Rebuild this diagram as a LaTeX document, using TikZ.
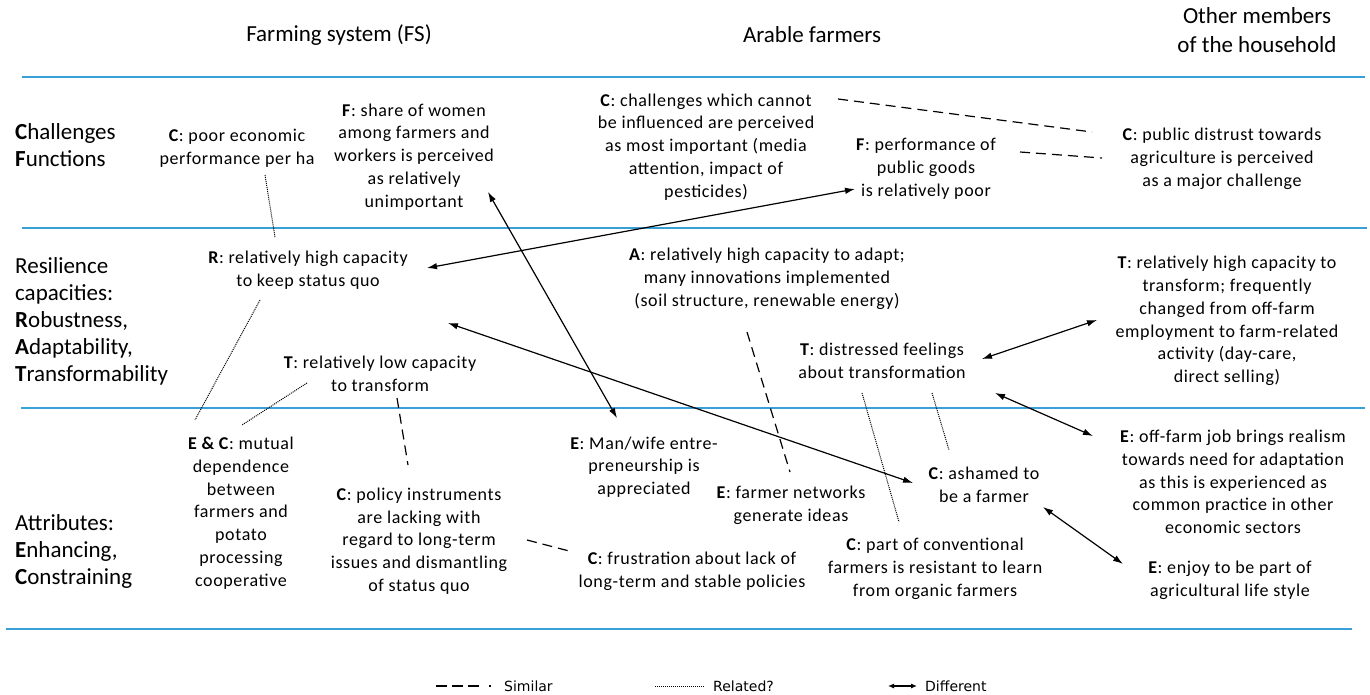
\documentclass[tikz,border=0pt]{standalone}
\usepackage{fontspec}
\setmainfont{Carlito}
\newfontfamily\bodyfont[LetterSpace=3.5]{Carlito}
\newfontfamily\legendfont{DejaVu Sans}
\usetikzlibrary{arrows.meta}
\definecolor{rulecol}{RGB}{56,160,214}
\begin{document}
\begin{tikzpicture}[x=1pt,y=-1pt,
  body/.style={align=center,font=\bodyfont\fontsize{18}{22.8}\selectfont,inner sep=0pt},
  rowlbl/.style={align=left,anchor=west,font=\fontsize{23}{27}\selectfont,inner sep=0pt},
  head/.style={align=center,font=\fontsize{23}{29}\selectfont,inner sep=0pt},
  legtext/.style={anchor=west,font=\legendfont\fontsize{14}{16}\selectfont,inner sep=0pt},
  sepline/.style={draw=rulecol,line width=2pt},
  similar/.style={dash pattern=on 10pt off 6pt,line width=1.2pt},
  related/.style={dash pattern=on 1pt off 1pt,line width=1pt},
  different/.style={{Latex[length=10pt,width=6.5pt]}-{Latex[length=10pt,width=6.5pt]},line width=1.2pt},
]
\useasboundingbox (0,0) rectangle (1370,695);

% separator lines
\draw[sepline] (22,77) -- (1365,77);
\draw[sepline] (22,228) -- (1367,228);
\draw[sepline] (21,408) -- (1365,408);
\draw[sepline] (6,629) -- (1352,629);

% headers
\node[head] (hFS) at (339,35) {Farming system (FS)};
\node[head] (hAF) at (812,35) {Arable farmers};
\node[head] (hOM) at (1257,30) {Other members\\of the household};

% row labels
\node[rowlbl] (lbl1) at (15,145) {\textbf{C}hallenges\\\textbf{F}unctions};
\node[rowlbl] (lbl2) at (15,321) {Resilience\\capacities:\\\textbf{R}obustness,\\\textbf{A}daptability,\\\textbf{T}ransformability};
\node[rowlbl] (lbl3) at (15,551) {Attributes:\\\textbf{E}nhancing,\\\textbf{C}onstraining};

% row 1
\node[body] (fsC1) at (237,148) {\textbf{C}: poor economic\\performance per ha};
\node[body] (fsF) at (414,157) {\textbf{F}: share of women\\among farmers and\\workers is perceived\\as relatively\\unimportant};
\node[body] (afC1) at (706,147) {\textbf{C}: challenges which cannot\\be influenced are perceived\\as most important (media\\attention, impact of\\pesticides)};
\node[body] (afF) at (926,169) {\textbf{F}: performance of\\public goods\\is relatively poor};
\node[body] (omC) at (1222,159) {\textbf{C}: public distrust towards\\agriculture is perceived\\as a major challenge};

% row 2
\node[body] (fsR) at (308,270) {\textbf{R}: relatively high capacity\\to keep status quo};
\node[body] (fsT) at (380,374) {\textbf{T}: relatively low capacity\\to transform};
\node[body] (afA) at (767,279) {\textbf{A}: relatively high capacity to adapt;\\many innovations implemented\\(soil structure, renewable energy)};
\node[body] (afT) at (882,361) {\textbf{T}: distressed feelings\\about transformation};
\node[body] (omT) at (1227,321) {\textbf{T}: relatively high capacity to\\transform; frequently\\changed from off-farm\\employment to farm-related\\activity (day-care,\\direct selling)};

% row 3
\node[body] (fsEC) at (241,513) {\textbf{E \& C}: mutual\\dependence\\between\\farmers and\\potato\\processing\\cooperative};
\node[body] (fsC2) at (419,541) {\textbf{C}: policy instruments\\are lacking with\\regard to long-term\\issues and dismantling\\of status quo};
\node[body] (afE1) at (644,467) {\textbf{E}: Man/wife entre-\\preneurship is\\appreciated};
\node[body] (afE2) at (791,505) {\textbf{E}: farmer networks\\generate ideas};
\node[body] (afC2) at (692,571) {\textbf{C}: frustration about lack of\\long-term and stable policies};
\node[body] (afC3) at (935,569) {\textbf{C}: part of conventional\\farmers is resistant to learn\\from organic farmers};
\node[body] (afC4) at (984,485) {\textbf{C}: ashamed to\\be a farmer};
\node[body] (omE1) at (1233,482) {\textbf{E}: off-farm job brings realism\\towards need for adaptation\\as this is experienced as\\common practice in other\\economic sectors};
\node[body] (omE2) at (1230,580) {\textbf{E}: enjoy to be part of\\agricultural life style};

% related (dotted)
\draw[related] ([shift={(28,27)}]fsC1.center) -- ([shift={(-33,-33)}]fsR.center);
\draw[related] ([shift={(-48,30)}]fsR.center) -- ([shift={(-46,-93)}]fsEC.center);
\draw[related] ([shift={(-73,9)}]fsT.center) -- ([shift={(1,-88)}]fsEC.center);
\draw[related] ([shift={(-20,32)}]afT.center) -- ([shift={(-36,-47)}]afC3.center);
\draw[related] ([shift={(50,32)}]afT.center) -- ([shift={(-35,-35)}]afC4.center);

% similar (dashed)
\draw[similar] ([shift={(132,-48)}]afC1.center) -- ([shift={(-130,-27)}]omC.center);
\draw[similar] ([shift={(94,-17)}]afF.center) -- ([shift={(-120,-1)}]omC.center);
\draw[similar] ([shift={(-20,53)}]afA.center) -- ([shift={(-1,-33)}]afE2.center);
\draw[similar] ([shift={(17,24)}]fsT.center) -- ([shift={(-11,-76)}]fsC2.center);
\draw[similar] ([shift={(108,-1)}]fsC2.center) -- ([shift={(-119,-19)}]afC2.center);

% different (double arrows)
\draw[different] ([shift={(119,-2)}]fsR.center) -- ([shift={(-71,20)}]afF.center);
\draw[different] ([shift={(74,35)}]fsF.center) -- ([shift={(-27,-49)}]afE1.center);
\draw[different] ([shift={(140,53)}]fsR.center) -- ([shift={(-71,-2)}]afC4.center);
\draw[different] ([shift={(100,-2)}]afT.center) -- ([shift={(-130,-1)}]omT.center);
\draw[different] ([shift={(113,32)}]afT.center) -- ([shift={(-140,-46)}]omE1.center);
\draw[different] ([shift={(59,22)}]afC4.center) -- ([shift={(-107,-16)}]omE2.center);

% legend
\coordinate (ls1) at (436,686);
\coordinate (ls2) at (484,686);
\coordinate (ls3) at (489,686);
\draw[dash pattern=on 11pt off 5pt,line width=1.2pt] (ls1) -- (ls2);
\draw[line width=1.2pt] (ls3) -- ++(1.5,0);
\node[legtext] (legS) at (504,686) {Similar};
\coordinate (lr1) at (655,686);
\coordinate (lr2) at (705,686);
\draw[related] (lr1) -- (lr2);
\node[legtext] (legR) at (713,686) {Related?};
\coordinate (ld1) at (888,686);
\coordinate (ld2) at (917,686);
\draw[{Latex[length=6pt,width=5pt]}-{Latex[length=6pt,width=5pt]},line width=1.1pt] (ld1) -- (ld2);
\node[legtext] (legD) at (925,686) {Different};
\end{tikzpicture}
\end{document}
